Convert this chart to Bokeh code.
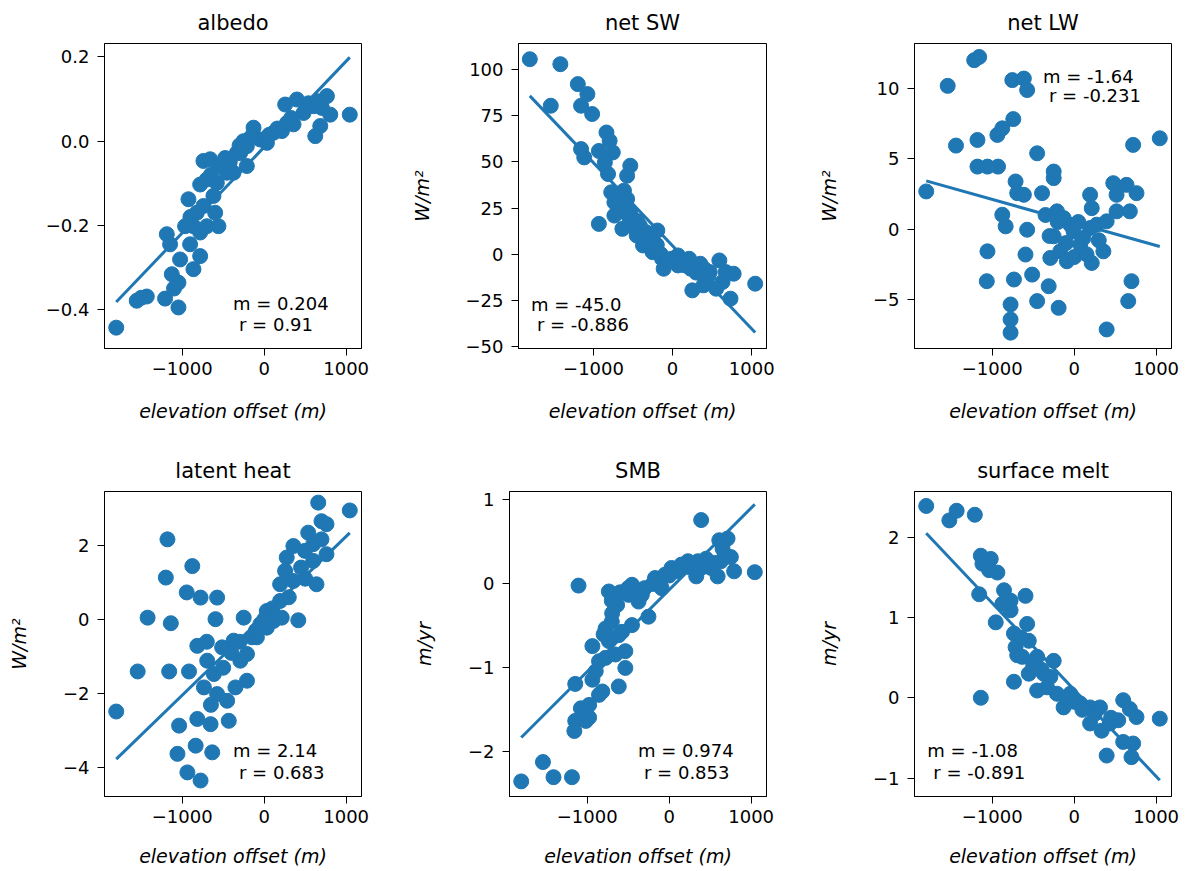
from bokeh.plotting import figure
from bokeh.layouts import column, row
from bokeh.models import Range1d, FixedTicker, Label
from bokeh.embed import file_html
from bokeh.resources import INLINE

# ---------------- data ----------------
titles = ["albedo", "net SW", "net LW", "latent heat", "SMB", "surface melt"]
ylabels = ["", "W/m\u00b2", "W/m\u00b2", "W/m\u00b2", "m/yr", "m/yr"]
xlabel = "elevation offset (m)"

slopes = [0.204, -45.0, -1.64, 2.14, 0.974, -1.08]          # per 1000 m
intercepts = [-0.014, 4.5, 0.47, 0.1, -0.07, 0.1]
m_texts = ["m = 0.204", "m = -45.0", "m = -1.64", "m = 2.14", "m = 0.974", "m = -1.08"]
r_texts = ["r = 0.91", "r = -0.886", "r = -0.231", "r = 0.683", "r = 0.853", "r = -0.891"]

x_ticks = [-1000, 0, 1000]
x_tick_labels = ["\u22121000", "0", "1000"]

albedo_ticks = [-0.4, -0.2, 0.0, 0.2]
albedo_tick_labels = ["\u22120.4", "\u22120.2", "0.0", "0.2"]
sw_ticks = [-50, -25, 0, 25, 50, 75, 100]
sw_tick_labels = ["\u221250", "\u221225", "0", "25", "50", "75", "100"]
lw_ticks = [-5, 0, 5, 10]
lw_tick_labels = ["\u22125", "0", "5", "10"]
lh_ticks = [-4, -2, 0, 2]
lh_tick_labels = ["\u22124", "\u22122", "0", "2"]
smb_ticks = [-2, -1, 0, 1]
smb_tick_labels = ["\u22122", "\u22121", "0", "1"]
melt_ticks = [-1, 0, 1, 2]
melt_tick_labels = ["\u22121", "0", "1", "2"]

albedo_x = [-1805, -1555, -1432, -1209, -1046, -1127, -1046, -1188, -1148, -924, -965, -863, -781, -904,
            -822, -741, -700, -558, -598, -781, -700, -619, -741, -659, -537, -476, -374, -212, -334, -252,
            -130, -49, 33, 114, 216, 277, 256, 399, 358, 480, 602, 765, 704, 806, 623, 684, 1044, -212,
            -293, -456, -578, -863, -781, -1026,
            -1500, -1100, -900, -650, -420, -300, -160, 60, 160, 330, 540, 650]
albedo_y = [-0.443, -0.379, -0.369, -0.374, -0.395, -0.316, -0.336, -0.221, -0.245, -0.138, -0.202, -0.304,
            -0.273, -0.245, -0.170, -0.154, -0.202, -0.202, -0.170, -0.103, -0.091, -0.130, -0.047, -0.043,
            -0.059, -0.040, -0.075, -0.059, -0.028, 0.000, 0.032, 0.004, -0.004, 0.020, 0.024, 0.043, 0.087,
            0.099, 0.040, 0.067, 0.083, 0.107, 0.079, 0.063, 0.012, 0.036, 0.063, -0.012, -0.028, -0.075,
            -0.099, -0.202, -0.217, -0.281,
            -0.372, -0.350, -0.180, -0.080, -0.050, -0.010, 0.010, 0.015, 0.030, 0.055, 0.090, 0.095]

sw_x = [-1805, -1419, -1540, -1198, -1077, -1157, -1017, -1157, -1117, -836, -796, -932, -756, -856, -535,
        -816, -615, -575, -736, -655, -932, -736, -535, -635, -454, -334, -193, -374, -253, -133, -12, -113,
        68, 209, 229, 350, 249, 390, 591, 672, 772, 631, 732, 551, 1044, -495, -414, -293, -776, -575, 68, 470,
        -600, -550, -500, -450, -400, -350, -300, -250, -200, -150, -50, 100, 150, 300, 400, 450]
sw_y = [105.6, 102.9, 80.4, 92.1, 86.7, 80.4, 75.9, 56.9, 52.4, 65.9, 61.4, 55.9, 55.1, 49.7, 47.9, 43.4,
        34.4, 29.9, 28.1, 23.6, 16.4, 20.9, 22.7, 13.7, 10.1, 11.9, 12.8, 4.7, 1.1, -2.5, -2.5, -7.9, -0.7,
        -2.5, -7.9, -5.2, -19.6, -16.9, -3.4, -9.7, -10.6, -15.1, -24.1, -18.7, -16.0, 17.3, 15.5, 8.3, 33.5,
        42.5, -6.1, -9.7,
        25.0, 20.0, 15.0, 18.0, 10.0, 8.0, 5.0, 3.0, 5.0, 0.0, -3.0, -4.0, -6.0, -10.0, -8.0, -12.0]

lw_x = [-1805, -1543, -1442, -1220, -1159, -1180, -1180, -1058, -929, -1058, -1066, -937, -877, -743, -755,
        -614, -574, -452, -250, -250, -715, -695, -392, -614, -877, -836, -574, -735, -594, -513, -452, -311,
        -190, -776, -776, -776, -210, -129, -250, -170, -291, -89, -8, 73, 194, 214, 356, 194, 214, 275, 396,
        477, 517, 517, 638, 679, 760, 719, 1044, 699, 659, 396, -48, 113,
        -350, -300, -100, 0, 50, 150, 300, -200]
lw_y = [2.68, 10.21, 5.95, 12.04, 12.27, 6.35, 4.45, 4.45, 4.45, -1.59, -3.72, 6.71, 7.18, 7.84, 10.62,
        10.73, 9.91, 5.40, 4.10, 3.63, 3.39, 2.56, 2.56, 2.44, 1.02, 0.19, -0.05, -3.60, -1.82, -3.25, -5.14,
        -4.08, -5.62, -5.38, -6.45, -7.39, 1.26, 0.78, -0.52, -1.59, -2.06, -2.30, -0.17, -1.11, 0.07, -2.42,
        -1.59, 2.44, 1.49, 0.31, 0.55, 3.27, 2.44, 1.26, 3.15, 1.26, 2.56, 6.00, 6.47, -3.72, -5.14, -7.16,
        0.31, -0.64,
        1.0, -0.5, -1.0, -2.0, 0.5, -1.8, -0.8, 0.5]

lh_x = [-1805, -1543, -1422, -1180, -1200, -1139, -1159, -877, -945, -776, -574, -594, -1038, -1058, -937,
        -776, -836, -634, -816, -654, -432, -917, -816, -695, -735, -614, -574, -452, -513, -372, -250, -291,
        -210, -351, -149, -48, 32, 113, 194, 214, 416, 194, 255, 356, 275, 356, 497, 537, 638, 598, 699, 760,
        699, 760, 659, 1044, 598, 32, -89, -210,
        -500, -400, -300, -100, 0, 100, 300, 450, 500, -700, -650]
lh_y = [-2.48, -1.40, 0.05, 2.16, 1.13, -0.10, -1.40, 1.44, 0.73, 0.59, 0.59, 0.01, -2.86, -3.62, -4.12,
        -4.34, -3.40, -3.58, -2.68, -2.82, -2.73, -1.40, -0.71, -1.11, -1.83, -1.47, -2.01, -2.19, -0.75,
        -0.57, 0.05, -1.11, -1.65, -1.83, -0.48, -0.13, 0.23, -0.04, 0.50, 0.05, -0.02, 0.95, 1.31, 1.04,
        1.67, 1.98, 1.85, 2.34, 0.95, 2.03, 2.16, 1.76, 2.65, 2.57, 3.15, 2.94, 1.58, -0.22, -0.48, -0.93,
        -1.30, -0.90, -0.60, -0.30, 0.00, 0.30, 0.60, 1.40, 1.10, -0.60, -2.30]

smb_x = [-1805, -1540, -1411, -1186, -1146, -1157, -1017, -1077, -977, -856, -816, -1146, -937, -896, -615,
         -856, -776, -535, -937, -736, -535, -776, -575, -696, -454, -635, -736, -1106, -454, -253, -334, -173,
         -92, 28, -52, 229, 330, 390, 350, 511, 591, 631, 752, 651, 712, 611, 792, 1044, 390, 149, -495, -374,
         -615, -655, -977,
         -700, -600, -500, -300, -200, 0, 100, 250, 450, 550, -800, -700]
smb_y = [-2.35, -2.12, -2.30, -2.30, -1.63, -1.75, -1.63, -1.48, -1.44, -1.32, -1.28, -1.19, -1.14, -1.04,
         -1.22, -0.92, -0.88, -1.00, -0.74, -0.68, -0.80, -0.53, -0.57, -0.35, -0.49, -0.25, -0.09, -0.02,
         -0.01, -0.39, -0.13, 0.07, -0.05, 0.19, 0.11, 0.27, 0.09, 0.19, 0.27, 0.19, 0.09, 0.27, 0.32, 0.42,
         0.54, 0.52, 0.15, 0.14, 0.76, 0.23, -0.13, -0.21, -0.61, -0.84, -1.59,
         -0.20, -0.10, -0.05, -0.05, 0.00, 0.10, 0.15, 0.20, 0.30, 0.25, -0.60, -0.45]

melt_x = [-1805, -1523, -1434, -1212, -1139, -1119, -1018, -937, -1159, -856, -776, -594, -957, -776, -735,
          -574, -715, -554, -695, -452, -250, -735, -554, -452, -1139, -291, -210, -129, -48, 73, 194, 315,
          194, 335, 436, 598, 679, 760, 537, 598, 719, 699, 396, 1044, -372, -331, -634, -877, -1038,
          -650, -500, -400, -100, 0, 100, 250, 450]
melt_y = [2.39, 2.21, 2.33, 2.28, 1.77, 1.67, 1.73, 1.56, 1.29, 1.34, 1.21, 1.27, 0.94, 1.09, 0.80, 0.92,
          0.63, 0.71, 0.53, 0.51, 0.46, 0.20, 0.30, 0.09, 0.00, 0.26, 0.05, -0.12, 0.05, -0.07, -0.12, -0.12,
          -0.32, -0.41, -0.32, -0.03, -0.14, -0.24, -0.28, -0.55, -0.57, -0.74, -0.72, -0.26, 0.30, 0.13,
          0.51, 1.17, 1.59, 0.75, 0.40, 0.35, 0.00, -0.05, -0.15, -0.20, -0.25]

# ---------------- layout / style ----------------
BLUE = "#1f77b4"
FONT = "DejaVu Sans"
X_RANGE = (-1948, 1187)
Y_RANGES = [(-0.4925, 0.232), (-51.1, 114.1), (-8.52, 13.23), (-4.77, 3.45), (-2.53, 1.10), (-1.23, 2.57)]
TEXT_FX = [0.5, 0.05, 0.5, 0.5, 0.5, 0.05]
TEXT_FY_M = [0.147, 0.145, 0.893, 0.15, 0.15, 0.15]
TEXT_FY_R = [0.078, 0.078, 0.828, 0.078, 0.078, 0.078]

COL_W = [407, 405, 376]
COL_MBL = [104, 102, 102]
COL_MBR = [46, 46, 17]
ROW_H = [448, 423]
ROW_MBT = [42, 42]
ROW_MBB = [100, 75]
ROW_XLABEL_STANDOFF = [22, 19]

panels_x = [albedo_x, sw_x, lw_x, lh_x, smb_x, melt_x]
panels_y = [albedo_y, sw_y, lw_y, lh_y, smb_y, melt_y]
panels_ticks = [albedo_ticks, sw_ticks, lw_ticks, lh_ticks, smb_ticks, melt_ticks]
panels_tick_labels = [albedo_tick_labels, sw_tick_labels, lw_tick_labels, lh_tick_labels,
                      smb_tick_labels, melt_tick_labels]


def make_panel(i):
    col = i % 3
    rw = i // 3
    y0, y1 = Y_RANGES[i]
    p = figure(width=COL_W[col], height=ROW_H[rw],
               x_range=Range1d(*X_RANGE), y_range=Range1d(y0, y1),
               output_backend="svg", toolbar_location=None,
               min_border_left=COL_MBL[col], min_border_right=COL_MBR[col],
               min_border_top=ROW_MBT[rw], min_border_bottom=ROW_MBB[rw],
               title=titles[i])
    p.title.align = "center"
    p.title.text_font = FONT
    p.title.text_font_size = "21px"
    p.title.text_font_style = "normal"
    p.title.text_color = "black"
    p.title.standoff = 17

    p.background_fill_color = "white"
    p.border_fill_color = "white"
    p.outline_line_color = "black"
    p.outline_line_width = 1
    p.outline_line_alpha = 1.0
    p.xgrid.visible = False
    p.ygrid.visible = False

    for ax in (p.xaxis[0], p.yaxis[0]):
        ax.axis_line_color = "black"
        ax.major_tick_line_color = "black"
        ax.minor_tick_line_color = None
        ax.major_tick_out = 7
        ax.major_tick_in = 0
        ax.major_label_text_font = FONT
        ax.major_label_text_font_size = "18px"
        ax.major_label_text_color = "black"
        ax.axis_label_text_font = FONT
        ax.axis_label_text_font_size = "19px"
        ax.axis_label_text_font_style = "italic"
        ax.axis_label_text_color = "black"

    xa = p.xaxis[0]
    xa.ticker = FixedTicker(ticks=x_ticks)
    xa.major_label_overrides = {t: l for t, l in zip(x_ticks, x_tick_labels)}
    xa.axis_label = xlabel
    xa.major_label_standoff = 6
    xa.axis_label_standoff = ROW_XLABEL_STANDOFF[rw]

    ya = p.yaxis[0]
    ya.ticker = FixedTicker(ticks=panels_ticks[i])
    ya.major_label_overrides = {t: l for t, l in zip(panels_ticks[i], panels_tick_labels[i])}
    if ylabels[i]:
        ya.axis_label = ylabels[i]
    ya.major_label_standoff = 8
    ya.axis_label_standoff = 30

    xs = panels_x[i]
    ys = panels_y[i]
    p.scatter(xs, ys, size=15, fill_color=BLUE, line_color=BLUE, line_width=1)

    xmin, xmax = min(xs), max(xs)
    lx = [xmin, xmax]
    ly = [slopes[i] * v / 1000.0 + intercepts[i] for v in lx]
    p.line(lx, ly, line_width=3, line_color=BLUE)

    x0, x1 = X_RANGE
    tx = x0 + TEXT_FX[i] * (x1 - x0)
    tym = y0 + TEXT_FY_M[i] * (y1 - y0)
    tyr = y0 + TEXT_FY_R[i] * (y1 - y0)
    p.add_layout(Label(x=tx, y=tym, text=m_texts[i], text_font=FONT, text_font_size="18px",
                       text_color="black", text_baseline="middle", text_align="left"))
    p.add_layout(Label(x=tx, y=tyr, x_offset=6, text=r_texts[i], text_font=FONT, text_font_size="18px",
                       text_color="black", text_baseline="middle", text_align="left"))
    return p


figs = [make_panel(i) for i in range(6)]
layout = column(row(figs[0], figs[1], figs[2]), row(figs[3], figs[4], figs[5]))

open("out.html", "w").write(file_html(layout, INLINE))
